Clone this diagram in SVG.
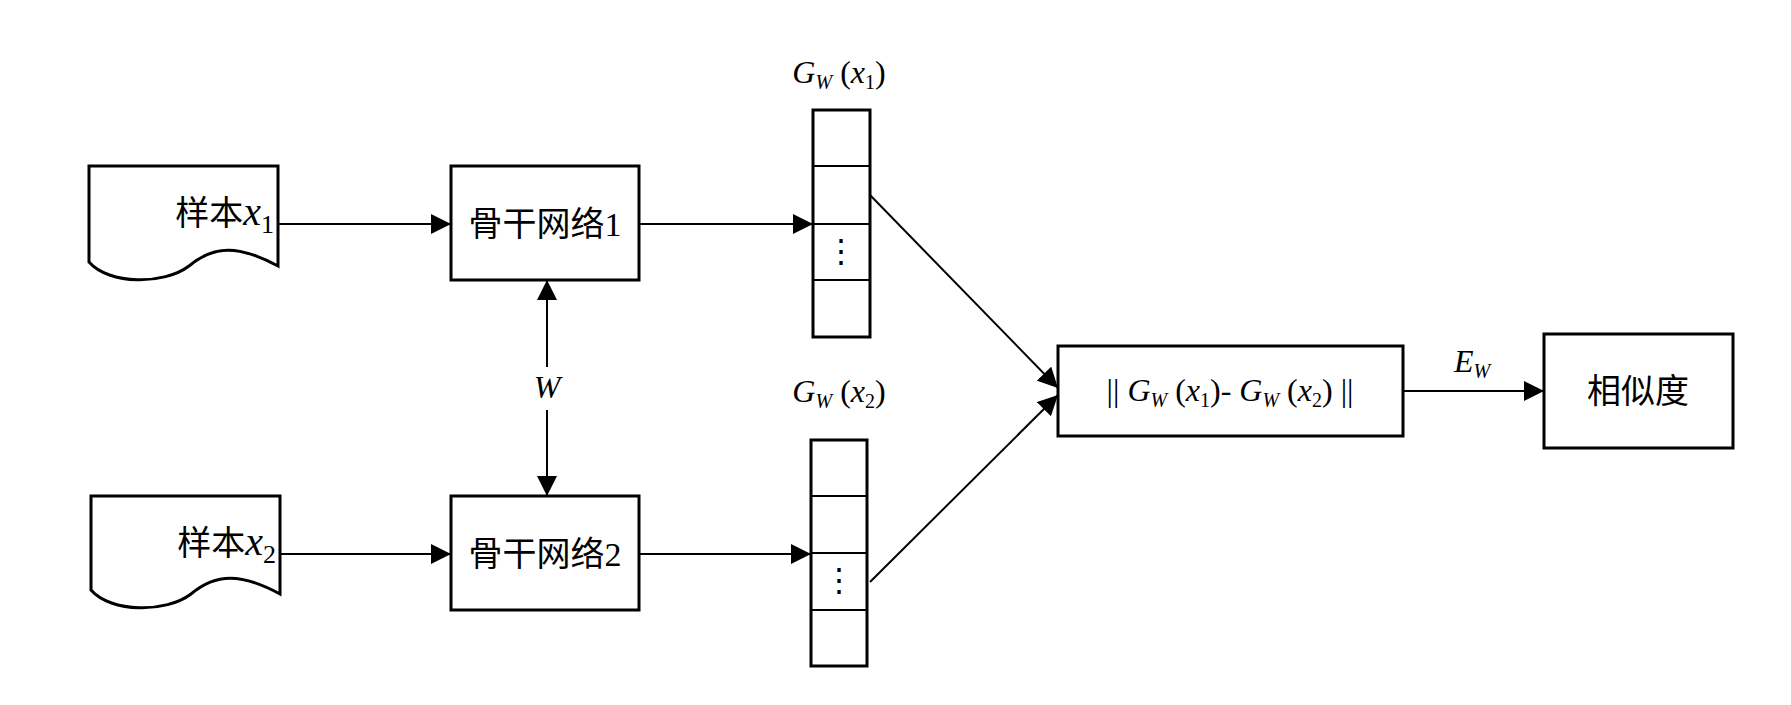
<svg xmlns="http://www.w3.org/2000/svg" width="1791" height="705" viewBox="0 0 1791 705">
<style>
.b{fill:#fff;stroke:#000;stroke-width:3}
.l{stroke:#000;stroke-width:2;fill:none}
.t{font-family:"Liberation Serif","Noto Sans CJK SC",serif;font-size:32px;fill:#000}
.c{font-size:34px}
.i{font-style:italic}
</style>
<defs>
<marker id="A" viewBox="0 0 10 10" refX="10" refY="5" markerWidth="20" markerHeight="20" markerUnits="userSpaceOnUse" orient="auto"><path d="M0,0L10,5L0,10z"/></marker>
</defs>
<g id="doc1"><path class="b" d="M89,166H278V266C239,245 214,245 189,266C164,285 109,285 89,262Z"/><text class="t c" x="274" y="225" text-anchor="end">样本<tspan class="i" font-size="40">x</tspan><tspan font-size="26" dy="8">1</tspan></text></g>
<g id="doc2"><path class="b" d="M91,496H280V594C241,573 216,573 191,594C166,613 111,613 91,590Z"/><text class="t c" x="276" y="555" text-anchor="end">样本<tspan class="i" font-size="40">x</tspan><tspan font-size="26" dy="8">2</tspan></text></g>
<g id="bb1"><rect class="b" x="451" y="166" width="188" height="114"/><text class="t c" x="545" y="236" text-anchor="middle">骨干网络1</text></g>
<g id="bb2"><rect class="b" x="451" y="496" width="188" height="114"/><text class="t c" x="545" y="566" text-anchor="middle">骨干网络2</text></g>
<g id="v1"><rect class="b" x="813" y="110" width="57" height="227"/><path class="l" stroke-width="3" d="M813,166H870M813,224H870M813,280H870"/><text class="t" x="841" y="262" text-anchor="middle" font-size="22">⋮</text></g>
<g id="v2"><rect class="b" x="811" y="440" width="56" height="226"/><path class="l" stroke-width="3" d="M811,496H867M811,553H867M811,610H867"/><text class="t" x="839" y="591" text-anchor="middle" font-size="22">⋮</text></g>
<g id="lab1"><text class="t" x="839" y="83" text-anchor="middle"><tspan class="i">G</tspan><tspan class="i" font-size="20" dy="6">W</tspan><tspan dy="-6"> (</tspan><tspan class="i">x</tspan><tspan font-size="20" dy="6">1</tspan><tspan dy="-6">)</tspan></text></g>
<g id="lab2"><text class="t" x="839" y="402" text-anchor="middle"><tspan class="i">G</tspan><tspan class="i" font-size="20" dy="6">W</tspan><tspan dy="-6"> (</tspan><tspan class="i">x</tspan><tspan font-size="20" dy="6">2</tspan><tspan dy="-6">)</tspan></text></g>
<g id="diff"><rect class="b" x="1058" y="346" width="345" height="90"/><text class="t" x="1230" y="401" text-anchor="middle">|| <tspan class="i">G</tspan><tspan class="i" font-size="20" dy="6">W</tspan><tspan dy="-6"> (</tspan><tspan class="i">x</tspan><tspan font-size="20" dy="6">1</tspan><tspan dy="-6">)- </tspan><tspan class="i">G</tspan><tspan class="i" font-size="20" dy="6">W</tspan><tspan dy="-6"> (</tspan><tspan class="i">x</tspan><tspan font-size="20" dy="6">2</tspan><tspan dy="-6">) ||</tspan></text></g>
<g id="sim"><rect class="b" x="1544" y="334" width="189" height="114"/><text class="t c" x="1638" y="403" text-anchor="middle">相似度</text></g>
<g id="connectors">
<path class="l" stroke-width="3.5" d="M278,224H451" marker-end="url(#A)"/>
<path class="l" stroke-width="3.5" d="M280,554H451" marker-end="url(#A)"/>
<path class="l" d="M639,224H813" marker-end="url(#A)"/>
<path class="l" d="M639,554H811" marker-end="url(#A)"/>
<path class="l" d="M870,195L1058,388" marker-end="url(#A)"/>
<path class="l" d="M870,582L1058,395" marker-end="url(#A)"/>
<path class="l" d="M1403,391H1544" marker-end="url(#A)"/>
<path class="l" d="M547,367V280" marker-end="url(#A)"/>
<path class="l" d="M547,410V496" marker-end="url(#A)"/>
</g>
<text class="t i" x="547" y="398" text-anchor="middle">W</text>
<text class="t" x="1472" y="372" text-anchor="middle"><tspan class="i">E</tspan><tspan class="i" font-size="20" dy="6">W</tspan></text>
</svg>
